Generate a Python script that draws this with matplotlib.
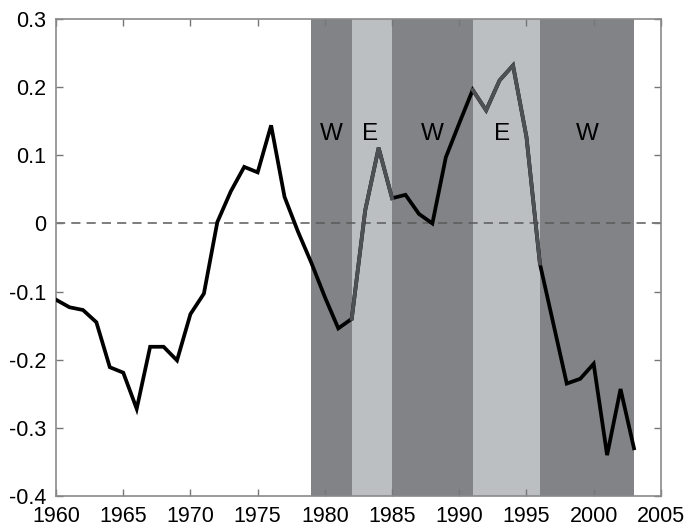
import matplotlib
matplotlib.use("Agg")
import matplotlib.pyplot as plt
import numpy as np

plt.rcParams["font.family"] = ["Liberation Sans", "DejaVu Sans"]

years = np.arange(1960, 2004)
values = [
    -0.112, -0.123, -0.127, -0.145, -0.211, -0.219, -0.272, -0.181, -0.181, -0.201,
    -0.133, -0.103, 0.002, 0.047, 0.083, 0.075, 0.144, 0.039, -0.012, -0.058,
    -0.108, -0.154, -0.140, 0.019, 0.111, 0.037, 0.042, 0.014, 0.000, 0.097,
    0.147, 0.196, 0.166, 0.210, 0.232, 0.127, -0.059, -0.147, -0.235, -0.228,
    -0.206, -0.340, -0.243, -0.330,
]

# regime periods: (start, end, label)
regimes = [(1979, 1982, "W"), (1982, 1985, "E"), (1985, 1991, "W"),
           (1991, 1996, "E"), (1996, 2003, "W")]
label_x = [1980.5, 1983.4, 1988.0, 1993.2, 1999.5]

DARK, LIGHT = "#818386", "#bbbfc2"

fig = plt.figure(figsize=(6.92, 5.29), dpi=100)
ax = fig.add_axes([0.081, 0.0624, 0.874, 0.9016])

for (s, e, lab), lx in zip(regimes, label_x):
    ax.axvspan(s, e, color=DARK if lab == "W" else LIGHT, lw=0, zorder=0)
    ax.text(lx, 0.132, lab, ha="center", va="center", fontsize=17.5, zorder=4)

ax.axhline(0, color="#5a5a5a", lw=1.1, ls=(0, (6, 4)), zorder=1)

vals = np.array(values)
ax.plot(years, vals, color="black", lw=2.7, zorder=3, solid_joinstyle="miter")
for s, e, lab in regimes:
    if lab == "E":
        m = (years >= s) & (years <= e)
        ax.plot(years[m], vals[m], color="#4d5054", lw=2.7, zorder=3,
                solid_joinstyle="miter")

ax.set_xlim(1960, 2005)
ax.set_ylim(-0.4, 0.3)
ax.set_xticks(np.arange(1960, 2006, 5))
ax.set_yticks(np.arange(-0.4, 0.31, 0.1))
ax.set_yticklabels(["-0.4", "-0.3", "-0.2", "-0.1", "0", "0.1", "0.2", "0.3"])
ax.tick_params(direction="in", length=5, width=1, color="#777777",
               top=True, right=True, labelsize=15.5, pad=7)
for sp in ax.spines.values():
    sp.set_color("#8a8a8a")
    sp.set_linewidth(1.2)

fig.savefig("out.png", dpi=100)
